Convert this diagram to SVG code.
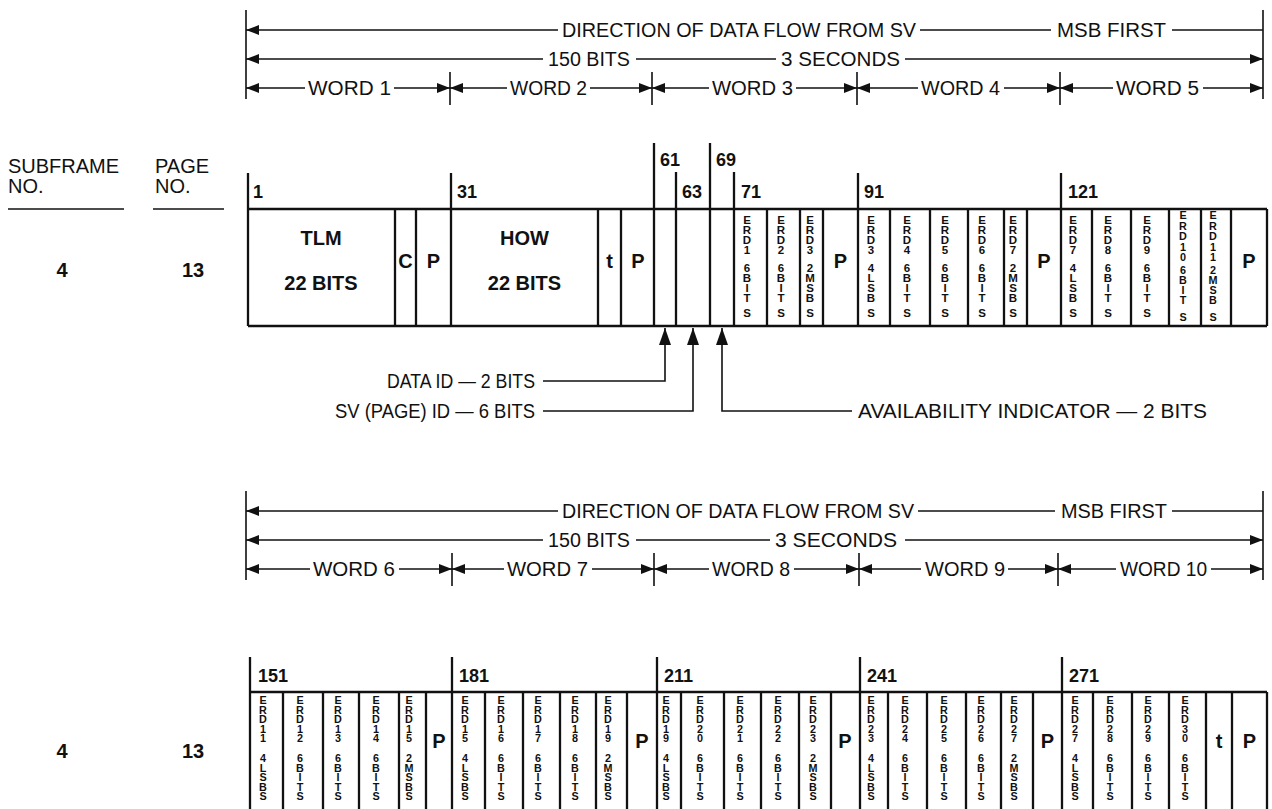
<svg xmlns="http://www.w3.org/2000/svg" width="1272" height="809" viewBox="0 0 1272 809">
<defs>
<style>
.ln{stroke:#111;stroke-width:1.6;fill:none}
.fr{stroke:#111;stroke-width:2.3;fill:none}
text{font-family:'Liberation Sans',Arial,sans-serif;fill:#111}
.hd{font-size:20px}
.lb{font-size:20px;font-weight:bold}
.num{font-size:18px;font-weight:bold}
.v{font-size:11.5px;font-weight:bold;text-anchor:middle}
.vb{font-size:10.8px;font-weight:bold;text-anchor:middle}
.c{text-anchor:middle}
.e{text-anchor:end}
.arr{marker-start:url(#ah)}
.arr2{marker-end:url(#ah)}
</style>
<marker id="ah" viewBox="0 0 13 10" refX="13" refY="5" markerWidth="13" markerHeight="10" markerUnits="userSpaceOnUse" orient="auto-start-reverse"><path d="M0,0 L13,5 L0,10 z" fill="#111"/></marker>
<marker id="up" viewBox="0 0 17 12" refX="17" refY="6" markerWidth="17" markerHeight="12" markerUnits="userSpaceOnUse" orient="auto"><path d="M0,0 L17,6 L0,12 z" fill="#111"/></marker>
</defs>
<rect width="1272" height="809" fill="#fff"/>

<!-- left column headings -->
<g id="column-headings">
<text class="hd" x="8" y="173">SUBFRAME</text>
<text class="hd" x="8" y="193">NO.</text>
<path class="ln" d="M8,209 H124"/>
<text class="hd" x="155" y="173">PAGE</text>
<text class="hd" x="155" y="193">NO.</text>
<path class="ln" d="M153,209 H224"/>
<text class="lb c" x="62" y="277">4</text>
<text class="lb c" x="193" y="277">13</text>
<text class="lb c" x="62" y="758">4</text>
<text class="lb c" x="193" y="758">13</text>
</g>

<!-- top header -->
<g id="header-top">
<path class="ln" d="M246,10 V99 M1263,10 V99 M450,72 V105 M652,72 V105 M857,72 V105 M1060,72 V105"/>
<path class="ln arr" d="M246,30 H558"/>
<text class="hd" x="562" y="37" textLength="354" lengthAdjust="spacingAndGlyphs">DIRECTION OF DATA FLOW FROM SV</text>
<path class="ln" d="M920,30 H1051"/>
<text class="hd" x="1057" y="37" textLength="109" lengthAdjust="spacingAndGlyphs">MSB FIRST</text>
<path class="ln" d="M1172,30 H1263"/>
<path class="ln arr" d="M246,59 H543"/>
<text class="hd" x="548" y="66" textLength="82" lengthAdjust="spacingAndGlyphs">150 BITS</text>
<path class="ln" d="M636,59 H776"/>
<text class="hd" x="781" y="66" textLength="119" lengthAdjust="spacingAndGlyphs">3 SECONDS</text>
<path class="ln arr2" d="M905,59 H1263"/>
<path class="ln arr" d="M246,88 H305"/>
<text class="hd" x="308" y="95" textLength="83" lengthAdjust="spacingAndGlyphs">WORD 1</text>
<path class="ln arr2" d="M394,88 H450"/>
<path class="ln arr" d="M450,88 H507"/>
<text class="hd" x="510" y="95" textLength="77" lengthAdjust="spacingAndGlyphs">WORD 2</text>
<path class="ln arr2" d="M590,88 H652"/>
<path class="ln arr" d="M652,88 H709"/>
<text class="hd" x="712" y="95" textLength="81" lengthAdjust="spacingAndGlyphs">WORD 3</text>
<path class="ln arr2" d="M796,88 H857"/>
<path class="ln arr" d="M857,88 H918"/>
<text class="hd" x="921" y="95" textLength="79" lengthAdjust="spacingAndGlyphs">WORD 4</text>
<path class="ln arr2" d="M1004,88 H1060"/>
<path class="ln arr" d="M1060,88 H1113"/>
<text class="hd" x="1116" y="95" textLength="83" lengthAdjust="spacingAndGlyphs">WORD 5</text>
<path class="ln arr2" d="M1203,88 H1263"/>
</g>

<!-- top frame: words 1-5 -->
<g id="frame-top">
<path class="fr" d="M248,209 H1267 M248,326 H1267 M248,173 V326 M1267,209 V326"/>
<path class="fr" d="M395,209 V326 M416,209 V326 M451,173 V326 M598,209 V326 M621,209 V326 M654,143 V326 M676,172 V326 M710,143 V326 M734,172 V326 M767,209 V326 M800,209 V326 M823,209 V326 M858,173 V326 M890,209 V326 M930,209 V326 M968,209 V326 M1004,209 V326 M1027,209 V326 M1061,173 V326 M1092,209 V326 M1131,209 V326 M1169,209 V326 M1201,209 V326 M1231,209 V326"/>
<text class="num" x="253" y="198">1</text>
<text class="num" x="457" y="198">31</text>
<text class="num" x="660" y="166">61</text>
<text class="num" x="682" y="198">63</text>
<text class="num" x="716" y="166">69</text>
<text class="num" x="741" y="198">71</text>
<text class="num" x="864" y="198">91</text>
<text class="num" x="1068" y="198">121</text>
<text class="lb c" x="321" y="245">TLM</text>
<text class="lb c" x="321" y="290">22 BITS</text>
<text class="lb c" x="405.5" y="268">C</text>
<text class="lb c" x="433.5" y="268">P</text>
<text class="lb c" x="524.5" y="245">HOW</text>
<text class="lb c" x="524.5" y="290">22 BITS</text>
<text class="lb c" x="609.5" y="268">t</text>
<text class="lb c" x="638" y="268">P</text>
<text class="lb c" x="840.5" y="268">P</text>
<text class="lb c" x="1044" y="268">P</text>
<text class="lb c" x="1249" y="268">P</text>
<text class="v" x="747 747 747 747 747 747 747 747 747" y="224 234 244 254 272 282 292 302 317">ERD16BITS</text>
<text class="v" x="781 781 781 781 781 781 781 781 781" y="224 234 244 254 272 282 292 302 317">ERD26BITS</text>
<text class="v" x="810 810 810 810 810 810 810 810 810" y="224 234 244 254 272 282 292 302 317">ERD32MSBS</text>
<text class="v" x="871 871 871 871 871 871 871 871 871" y="224 234 244 254 272 282 292 302 317">ERD34LSBS</text>
<text class="v" x="907 907 907 907 907 907 907 907 907" y="224 234 244 254 272 282 292 302 317">ERD46BITS</text>
<text class="v" x="945 945 945 945 945 945 945 945 945" y="224 234 244 254 272 282 292 302 317">ERD56BITS</text>
<text class="v" x="982 982 982 982 982 982 982 982 982" y="224 234 244 254 272 282 292 302 317">ERD66BITS</text>
<text class="v" x="1013 1013 1013 1013 1013 1013 1013 1013 1013" y="224 234 244 254 272 282 292 302 317">ERD72MSBS</text>
<text class="v" x="1073 1073 1073 1073 1073 1073 1073 1073 1073" y="224 234 244 254 272 282 292 302 317">ERD74LSBS</text>
<text class="v" x="1108 1108 1108 1108 1108 1108 1108 1108 1108" y="224 234 244 254 272 282 292 302 317">ERD86BITS</text>
<text class="v" x="1147 1147 1147 1147 1147 1147 1147 1147 1147" y="224 234 244 254 272 282 292 302 317">ERD96BITS</text>
<text class="vb" x="1183 1183 1183 1183 1183 1183 1183 1183 1183 1183" y="219 229.5 240 250.5 261 274 284 294 304 321">ERD106BITS</text>
<text class="vb" x="1213 1213 1213 1213 1213 1213 1213 1213 1213 1213" y="219 229.5 240 250.5 261 274 284 294 304 321">ERD112MSBS</text>
</g>

<!-- leader lines -->
<g id="connectors">
<path class="ln" marker-end="url(#up)" d="M543,381 H665 V328"/>
<path class="ln" marker-end="url(#up)" d="M543,411 H693 V328"/>
<path class="ln" marker-end="url(#up)" d="M852,411 H722 V328"/>
</g>
<g id="leader-labels">
<text class="hd e" x="535" y="388" textLength="148" lengthAdjust="spacingAndGlyphs">DATA ID — 2 BITS</text>
<text class="hd e" x="535" y="418" textLength="200" lengthAdjust="spacingAndGlyphs">SV (PAGE) ID — 6 BITS</text>
<text class="hd" x="858" y="418" textLength="349" lengthAdjust="spacingAndGlyphs">AVAILABILITY INDICATOR — 2 BITS</text>
</g>

<!-- bottom header -->
<g id="header-bottom">
<path class="ln" d="M246,491 V580 M1263,491 V580 M452,553 V586 M654,553 V586 M859,553 V586 M1058,553 V586"/>
<path class="ln arr" d="M246,511 H558"/>
<text class="hd" x="562" y="518" textLength="352" lengthAdjust="spacingAndGlyphs">DIRECTION OF DATA FLOW FROM SV</text>
<path class="ln" d="M918,511 H1055"/>
<text class="hd" x="1061" y="518" textLength="106" lengthAdjust="spacingAndGlyphs">MSB FIRST</text>
<path class="ln" d="M1172,511 H1263"/>
<path class="ln arr" d="M246,540 H543"/>
<text class="hd" x="548" y="547" textLength="82" lengthAdjust="spacingAndGlyphs">150 BITS</text>
<path class="ln" d="M636,540 H770"/>
<text class="hd" x="775" y="547" textLength="122" lengthAdjust="spacingAndGlyphs">3 SECONDS</text>
<path class="ln arr2" d="M905,540 H1263"/>
<path class="ln arr" d="M246,569 H310"/>
<text class="hd" x="313" y="576" textLength="82" lengthAdjust="spacingAndGlyphs">WORD 6</text>
<path class="ln arr2" d="M399,569 H452"/>
<path class="ln arr" d="M452,569 H504"/>
<text class="hd" x="507" y="576" textLength="81" lengthAdjust="spacingAndGlyphs">WORD 7</text>
<path class="ln arr2" d="M592,569 H654"/>
<path class="ln arr" d="M654,569 H709"/>
<text class="hd" x="712" y="576" textLength="78" lengthAdjust="spacingAndGlyphs">WORD 8</text>
<path class="ln arr2" d="M794,569 H859"/>
<path class="ln arr" d="M859,569 H921"/>
<text class="hd" x="925" y="576" textLength="80" lengthAdjust="spacingAndGlyphs">WORD 9</text>
<path class="ln arr2" d="M1008,569 H1058"/>
<path class="ln arr" d="M1058,569 H1116"/>
<text class="hd" x="1120" y="576" textLength="87" lengthAdjust="spacingAndGlyphs">WORD 10</text>
<path class="ln arr2" d="M1211,569 H1263"/>
</g>

<!-- bottom frame: words 6-10 -->
<g id="frame-bottom">
<path class="fr" d="M250,692 H1267 M250,657 V809 M1267,692 V809"/>
<path class="fr" d="M283,692 V809 M323,692 V809 M359,692 V809 M399,692 V809 M426,692 V809 M452,657 V809 M485,692 V809 M523,692 V809 M560,692 V809 M596,692 V809 M627,692 V809 M657,657 V809 M681,692 V809 M724,692 V809 M761,692 V809 M799,692 V809 M831,692 V809 M860,657 V809 M888,692 V809 M927,692 V809 M966,692 V809 M1001,692 V809 M1033,692 V809 M1062,657 V809 M1093,692 V809 M1132,692 V809 M1169,692 V809 M1206,692 V809 M1232,692 V809"/>
<text class="num" x="258" y="682">151</text>
<text class="num" x="459" y="682">181</text>
<text class="num" x="664" y="682">211</text>
<text class="num" x="867" y="682">241</text>
<text class="num" x="1069" y="682">271</text>
<text class="lb c" x="439" y="748">P</text>
<text class="lb c" x="642" y="748">P</text>
<text class="lb c" x="845" y="748">P</text>
<text class="lb c" x="1047.5" y="748">P</text>
<text class="lb c" x="1219" y="748">t</text>
<text class="lb c" x="1249.5" y="748">P</text>
<text class="vb" x="263 263 263 263 263 263 263 263 263 263" y="704 713.5 723 732.5 742 762 771.5 781 790.5 800">ERD114LSBS</text>
<text class="vb" x="300 300 300 300 300 300 300 300 300 300" y="704 713.5 723 732.5 742 762 771.5 781 790.5 800">ERD126BITS</text>
<text class="vb" x="338 338 338 338 338 338 338 338 338 338" y="704 713.5 723 732.5 742 762 771.5 781 790.5 800">ERD136BITS</text>
<text class="vb" x="376 376 376 376 376 376 376 376 376 376" y="704 713.5 723 732.5 742 762 771.5 781 790.5 800">ERD146BITS</text>
<text class="vb" x="409 409 409 409 409 409 409 409 409 409" y="704 713.5 723 732.5 742 762 771.5 781 790.5 800">ERD152MSBS</text>
<text class="vb" x="465 465 465 465 465 465 465 465 465 465" y="704 713.5 723 732.5 742 762 771.5 781 790.5 800">ERD154LSBS</text>
<text class="vb" x="501 501 501 501 501 501 501 501 501 501" y="704 713.5 723 732.5 742 762 771.5 781 790.5 800">ERD166BITS</text>
<text class="vb" x="538 538 538 538 538 538 538 538 538 538" y="704 713.5 723 732.5 742 762 771.5 781 790.5 800">ERD176BITS</text>
<text class="vb" x="575 575 575 575 575 575 575 575 575 575" y="704 713.5 723 732.5 742 762 771.5 781 790.5 800">ERD186BITS</text>
<text class="vb" x="608 608 608 608 608 608 608 608 608 608" y="704 713.5 723 732.5 742 762 771.5 781 790.5 800">ERD192MSBS</text>
<text class="vb" x="666 666 666 666 666 666 666 666 666 666" y="704 713.5 723 732.5 742 762 771.5 781 790.5 800">ERD194LSBS</text>
<text class="vb" x="700 700 700 700 700 700 700 700 700 700" y="704 713.5 723 732.5 742 762 771.5 781 790.5 800">ERD206BITS</text>
<text class="vb" x="740 740 740 740 740 740 740 740 740 740" y="704 713.5 723 732.5 742 762 771.5 781 790.5 800">ERD216BITS</text>
<text class="vb" x="778 778 778 778 778 778 778 778 778 778" y="704 713.5 723 732.5 742 762 771.5 781 790.5 800">ERD226BITS</text>
<text class="vb" x="813 813 813 813 813 813 813 813 813 813" y="704 713.5 723 732.5 742 762 771.5 781 790.5 800">ERD232MSBS</text>
<text class="vb" x="871 871 871 871 871 871 871 871 871 871" y="704 713.5 723 732.5 742 762 771.5 781 790.5 800">ERD234LSBS</text>
<text class="vb" x="905 905 905 905 905 905 905 905 905 905" y="704 713.5 723 732.5 742 762 771.5 781 790.5 800">ERD246BITS</text>
<text class="vb" x="944 944 944 944 944 944 944 944 944 944" y="704 713.5 723 732.5 742 762 771.5 781 790.5 800">ERD256BITS</text>
<text class="vb" x="981 981 981 981 981 981 981 981 981 981" y="704 713.5 723 732.5 742 762 771.5 781 790.5 800">ERD266BITS</text>
<text class="vb" x="1014 1014 1014 1014 1014 1014 1014 1014 1014 1014" y="704 713.5 723 732.5 742 762 771.5 781 790.5 800">ERD272MSBS</text>
<text class="vb" x="1075 1075 1075 1075 1075 1075 1075 1075 1075 1075" y="704 713.5 723 732.5 742 762 771.5 781 790.5 800">ERD274LSBS</text>
<text class="vb" x="1110 1110 1110 1110 1110 1110 1110 1110 1110 1110" y="704 713.5 723 732.5 742 762 771.5 781 790.5 800">ERD286BITS</text>
<text class="vb" x="1148 1148 1148 1148 1148 1148 1148 1148 1148 1148" y="704 713.5 723 732.5 742 762 771.5 781 790.5 800">ERD296BITS</text>
<text class="vb" x="1185 1185 1185 1185 1185 1185 1185 1185 1185 1185" y="704 713.5 723 732.5 742 762 771.5 781 790.5 800">ERD306BITS</text>
</g>
</svg>
